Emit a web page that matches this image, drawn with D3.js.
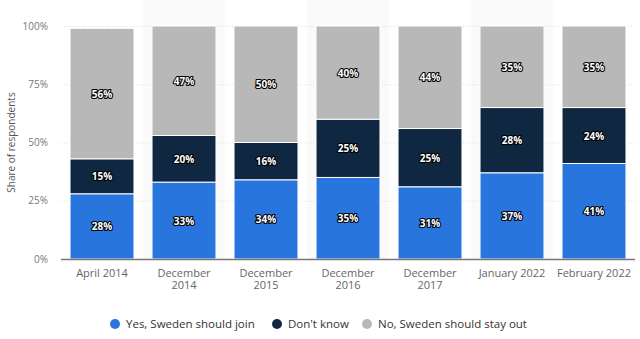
<!DOCTYPE html>
<html>
<head>
<meta charset="utf-8">
<script src="https://cdn.jsdelivr.net/npm/d3@7"></script>
<style>
  body { margin: 0; background: #fff; }
  svg { font-family: "Open Sans", "DejaVu Sans", sans-serif; }
</style>
</head>
<body>
<svg id="chart"></svg>
<script>
const categories = ['April 2014', 'December 2014', 'December 2015', 'December 2016', 'December 2017', 'January 2022', 'February 2022']
const yesJoin = [28, 33, 34, 35, 31, 37, 41]
const dontKnow = [15, 20, 16, 25, 25, 28, 24]
const stayOut = [56, 47, 50, 40, 44, 35, 35]
const seriesNames = ['Yes, Sweden should join', "Don't know", 'No, Sweden should stay out']
const seriesColors = ['#2876dd', '#0f2741', '#b8b8b8']
const yTicks = [0, 25, 50, 75, 100]

let width = 640,
    height = 339,
    margin = {top: 26, bottom: 80, left: 61, right: 5}

const svg = d3.select('#chart')
  .attr('width', width)
  .attr('height', height)

const rows = categories.map((c, i) => ({cat: c, s0: yesJoin[i], s1: dontKnow[i], s2: stayOut[i]}))
const stack = d3.stack().keys(['s0', 's1', 's2'])(rows)

const xScale = d3.scaleBand()
  .domain(categories)
  .range([margin.left, width - margin.right])
  .paddingInner(0.22)
  .paddingOuter(0.11)
const bandStep = xScale.step()

const yScale = d3.scaleLinear()
  .domain([0, 100])
  .range([height - margin.bottom, margin.top])

// alternating column backgrounds
svg.selectAll('.band')
  .data(categories.filter((d, i) => i % 2 === 1))
  .enter().append('rect')
    .attr('class', 'band')
    .attr('x', d => xScale(d) - xScale.step() * xScale.paddingInner() / 2)
    .attr('y', 0)
    .attr('width', bandStep)
    .attr('height', yScale(0))
    .attr('fill', '#fafafa')

// gridlines
svg.append('g')
  .selectAll('line')
  .data(yTicks.slice(1))
  .enter().append('line')
    .attr('x1', margin.left)
    .attr('x2', width - margin.right)
    .attr('y1', d => yScale(d) + 0.5)
    .attr('y2', d => yScale(d) + 0.5)
    .attr('stroke', '#dddddd')
    .attr('stroke-dasharray', '1,2')

// y tick labels
svg.append('g')
  .selectAll('text')
  .data(yTicks)
  .enter().append('text')
    .attr('x', 48)
    .attr('y', d => yScale(d) + 3.5)
    .attr('text-anchor', 'end')
    .attr('font-size', 10)
    .attr('fill', '#777')
    .text(d => d + '%')

svg.append('text')
  .attr('transform', `translate(15, ${(yScale(0) + yScale(100)) / 2}) rotate(-90)`)
  .attr('text-anchor', 'middle')
  .attr('font-size', 10)
  .attr('fill', '#555')
  .text('Share of respondents')

// bars
const layers = svg.selectAll('.layer')
  .data(stack)
  .enter().append('g')
    .attr('class', 'layer')
    .attr('fill', (d, i) => seriesColors[i])

layers.selectAll('rect')
  .data(d => d)
  .enter().append('rect')
    .attr('x', d => xScale(d.data.cat))
    .attr('width', xScale.bandwidth())
    .attr('y', d => yScale(d[1]))
    .attr('height', d => yScale(d[0]) - yScale(d[1]))
    .attr('stroke', '#fff')
    .attr('stroke-width', 1)

// value labels (dark halo under white text)
const labelG = svg.append('g')
stack.forEach(layer => {
  layer.forEach(d => {
    const v = d[1] - d[0]
    const cx = xScale(d.data.cat) + xScale.bandwidth() / 2
    const cy = (yScale(d[0]) + yScale(d[1])) / 2 + 4
    labelG.append('text')
      .attr('x', cx).attr('y', cy)
      .attr('text-anchor', 'middle')
      .attr('font-size', 10)
      .attr('font-weight', 'bold')
      .attr('stroke', '#000').attr('stroke-width', 2.2).attr('stroke-linejoin', 'round')
      .attr('fill', '#000')
      .text(v + '%')
    labelG.append('text')
      .attr('x', cx).attr('y', cy)
      .attr('text-anchor', 'middle')
      .attr('font-size', 10)
      .attr('font-weight', 'bold')
      .attr('fill', '#fff')
      .text(v + '%')
  })
})

// x axis
const xAxis = d3.axisBottom(xScale).tickSize(0).tickPadding(10)
const xg = svg.append('g')
  .attr('transform', `translate(0, ${yScale(0)})`)
  .call(xAxis)
xg.select('.domain').attr('stroke', '#777').attr('stroke-width', 1.5)
  .attr('d', `M${margin.left},0.5H${width - margin.right}`)
xg.selectAll('.tick text')
  .attr('font-size', 11)
  .attr('font-family', '"Open Sans", "DejaVu Sans", sans-serif')
  .attr('fill', '#666')
  .each(function(d) {
    const el = d3.select(this)
    const parts = d.split(' ')
    if (parts[0] === 'December') {
      el.text(null)
      el.append('tspan').attr('x', 0).attr('dy', '0.71em').text(parts[0])
      el.append('tspan').attr('x', 0).attr('dy', '1.1em').text(parts[1])
    }
  })

// legend
const legendX = [115, 277, 367]
const legend = svg.append('g')
  .selectAll('g')
  .data(seriesNames)
  .enter().append('g')
    .attr('transform', (d, i) => `translate(${legendX[i]}, 324)`)
legend.append('circle')
  .attr('r', 5)
  .attr('fill', (d, i) => seriesColors[i])
legend.append('text')
  .attr('x', 11)
  .attr('y', 4)
  .attr('font-size', 11.5)
  .attr('fill', '#333')
  .text(d => d)
</script>
</body>
</html>
